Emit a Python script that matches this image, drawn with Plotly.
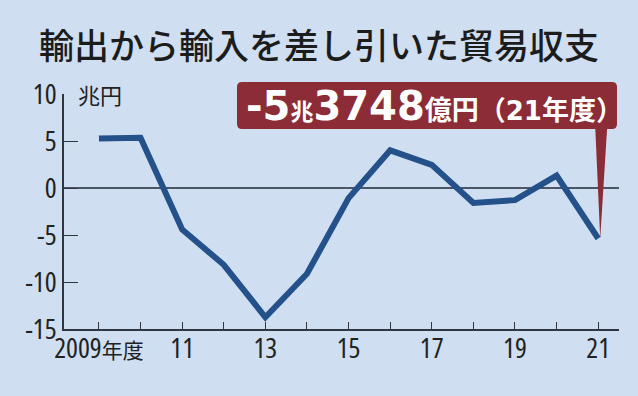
import plotly.graph_objects as go

years = list(range(2009, 2022))
balance = [5.27, 5.35, -4.41, -8.17, -13.75, -9.13, -1.08, 4.01, 2.46, -1.59, -1.29, 1.32, -5.37]
x_labels = ["2009年度", "", "11", "", "13", "", "15", "", "17", "", "19", "", "21"]
y_ticks = [-15, -10, -5, 0, 5, 10]
y_labels = ["-15", "-10", "-5", "0", "5", "10"]
title_text = "輸出から輸入を差し引いた貿易収支"
unit_text = "兆円"

BG = "#cfdff1"
LINE = "#25518a"
RED = "#8b2c37"
AX = "#2f3640"


def narrow(s):
    s = s.replace("年度", '<span style="font-family:Noto Sans CJK JP;font-size:21px">年度</span>')
    return f'<span style="font-stretch:75%">{s}</span>' if s else ""


x_text = [narrow(s) for s in x_labels]
y_text = [narrow(s) for s in y_labels]

callout_text = ('<span style="font-family:DejaVu Sans;font-size:40px">-5</span>'
                '<span style="font-size:23px">兆</span>'
                '<span style="font-family:DejaVu Sans;font-size:40px">3748</span>'
                '<span style="font-size:27px">億円（</span>'
                '<span style="font-family:DejaVu Sans;font-size:26px">21</span>'
                '<span style="font-size:27px">年度）</span>')

fig = go.Figure()
fig.add_trace(go.Scatter(x=years, y=balance, mode="lines",
                         line=dict(color=LINE, width=6), hoverinfo="skip"))

# callout box (pixel offsets from top-left corner of plot area)
box = ("M 178,12 L 548,12 Q 553,12 553,7 L 553,-30 Q 553,-35 548,-35 "
       "L 178,-35 Q 173,-35 173,-30 L 173,7 Q 173,12 178,12 Z")
fig.add_shape(type="path", path=box, xsizemode="pixel", ysizemode="pixel",
              xanchor=0, yanchor=1, xref="paper", yref="paper",
              fillcolor=RED, line=dict(width=0), layer="above")
# pointer from the box down to the last data point
fig.add_shape(type="path", path="M -3,112 L 9,112 L 2,0 Z", xsizemode="pixel", ysizemode="pixel",
              xanchor=years[-1], yanchor=balance[-1], xref="x", yref="y",
              fillcolor=RED, line=dict(width=0), layer="above")

fig.add_annotation(x=0, y=1, xref="paper", yref="paper",
                   text=callout_text, showarrow=False, xshift=180, yshift=-12,
                   xanchor="left", yanchor="middle",
                   font=dict(family="Noto Sans CJK JP", size=27, color="white", weight="bold"))

fig.add_annotation(x=0, y=10, xref="paper", yref="y", text=unit_text, showarrow=False,
                   xanchor="left", yanchor="middle", xshift=12,
                   font=dict(family="Noto Sans CJK JP", size=22, color="#222"))

fig.update_layout(
    width=638, height=396,
    margin=dict(l=64, r=19, t=94, b=67, autoexpand=False),
    paper_bgcolor=BG, plot_bgcolor=BG,
    showlegend=False,
    title=dict(text=title_text, x=0.5, xanchor="center", y=1 - 47 / 396, yanchor="middle",
               yref="container",
               font=dict(family="Noto Sans CJK JP", size=35, color="#1c1c1c", weight=500)),
    xaxis=dict(range=[2008.16, 2021.5], tickvals=years, ticktext=x_text, automargin=False,
               ticks="inside", ticklen=7, tickcolor=AX, tickwidth=1.2,
               showline=True, linecolor=AX, linewidth=1.5, showgrid=False, zeroline=False,
               tickfont=dict(family="Open Sans", size=28, color="#222"), ticklabelstandoff=-6),
    yaxis=dict(range=[-15, 10], tickvals=y_ticks, ticktext=y_text, automargin=False,
               ticks="inside", ticklen=14,
               tickcolor=AX, tickwidth=1.2,
               showline=True, linecolor=AX, linewidth=1.5, showgrid=False,
               zeroline=True, zerolinecolor="#4a5566", zerolinewidth=1.5,
               tickfont=dict(family="Open Sans", size=28, color="#222"), ticklabelstandoff=0),
)

fig.write_html("out.html")
